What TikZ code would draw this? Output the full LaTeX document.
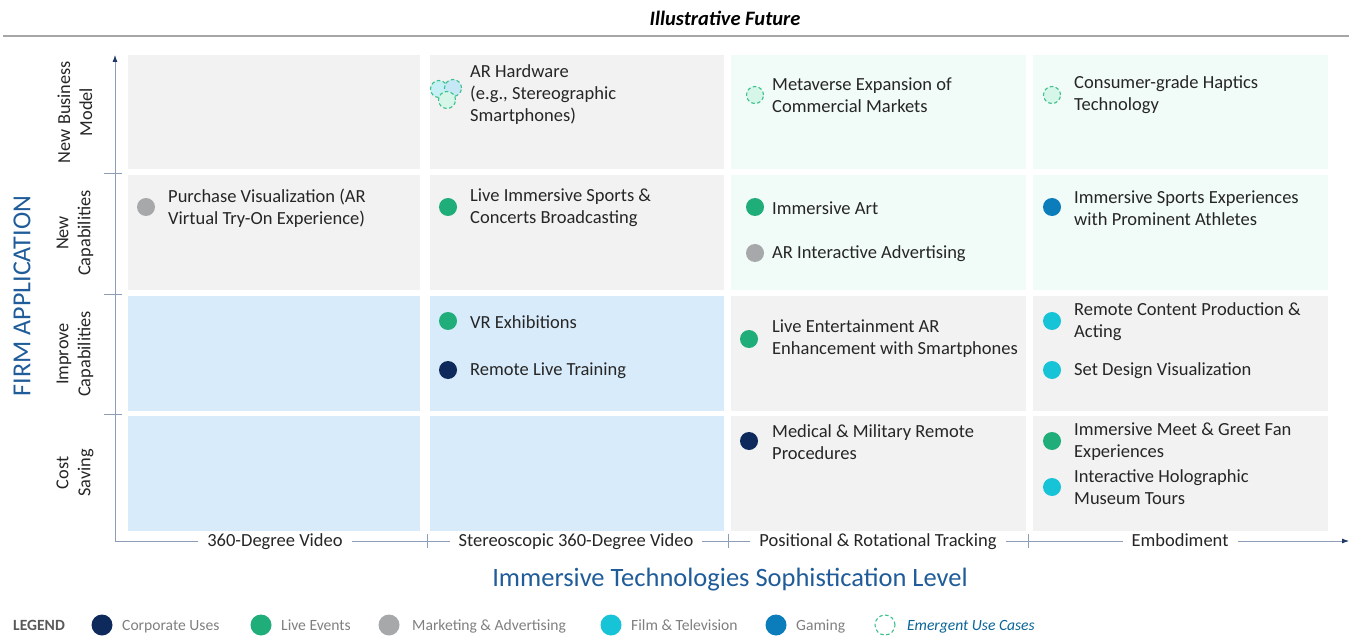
\documentclass[tikz,border=0pt]{standalone}
\usepackage{fontspec}
\setmainfont{Carlito}
\usetikzlibrary{arrows.meta}

\definecolor{txt}{HTML}{262626}
\definecolor{axisblue}{HTML}{1F5C99}
\definecolor{axisline}{HTML}{8C9DB5}
\definecolor{tipnavy}{HTML}{1F3864}
\definecolor{cellgray}{HTML}{F2F2F2}
\definecolor{cellblue}{HTML}{D8EBFA}
\definecolor{cellmint}{HTML}{F1FBF8}
\definecolor{corp}{HTML}{0E2A5C}
\definecolor{live}{HTML}{1FAD7A}
\definecolor{mkt}{HTML}{A6A8AA}
\definecolor{film}{HTML}{17C4D7}
\definecolor{gaming}{HTML}{0B7DBB}
\definecolor{emline}{HTML}{3CC08C}
\definecolor{emfill}{HTML}{D5F6E9}
\definecolor{legtxt}{HTML}{7F7F7F}

\tikzset{
  celltext/.style={anchor=west, align=left, inner sep=0pt, text=txt,
    font=\fontsize{18.5}{22}\selectfont},
  dot/.style={circle, minimum size=18pt, inner sep=0pt},
  emdot/.style={circle, minimum size=17pt, inner sep=0pt, draw=emline,
    dashed, dash pattern=on 3.5pt off 2.5pt, line width=1.1pt, fill=emfill},
  rowlabel/.style={rotate=90, align=center, text=txt, inner sep=0pt,
    font=\fontsize{18.3}{22}\selectfont},
  collabel/.style={fill=white, text=txt, inner xsep=9pt, inner ysep=2pt,
    text height=13pt, text depth=4pt,
    font=\fontsize{18.5}{22}\selectfont},
  axisarrow/.style={draw=axisline, line width=0.8pt,
    -{Latex[length=7pt,width=5pt,fill=tipnavy,color=tipnavy]}},
  tick/.style={draw=axisline, line width=0.8pt},
  legdot/.style={circle, minimum size=21pt, inner sep=0pt},
  legtext/.style={anchor=base west, text=legtxt, inner sep=0pt,
    font=\fontsize{15.6}{18}\selectfont}
}

\begin{document}
\begin{tikzpicture}[x=1pt,y=-1pt]
\useasboundingbox (0,0) rectangle (1359,636);

% heading and rule
\node[font=\fontsize{20.5}{24}\selectfont\bfseries\itshape, text=black] (title) at (725,18) {Illustrative Future};
\draw[draw=black!35, line width=1.2pt] (3,36) -- (1349,36);

% grid cells: columns = technology level, rows = firm application
\fill[cellgray] (128,55) rectangle (420,169);
\fill[cellgray] (430,55) rectangle (724,169);
\fill[cellmint] (731,55) rectangle (1026,169);
\fill[cellmint] (1033,55) rectangle (1328,169);

\fill[cellgray] (128,175) rectangle (420,290);
\fill[cellgray] (430,175) rectangle (724,290);
\fill[cellmint] (731,175) rectangle (1026,290);
\fill[cellmint] (1033,175) rectangle (1328,290);

\fill[cellblue] (128,296) rectangle (420,411);
\fill[cellblue] (430,296) rectangle (724,411);
\fill[cellgray] (731,296) rectangle (1026,411);
\fill[cellgray] (1033,296) rectangle (1328,411);

\fill[cellblue] (128,416) rectangle (420,531);
\fill[cellblue] (430,416) rectangle (724,531);
\fill[cellgray] (731,416) rectangle (1026,531);
\fill[cellgray] (1033,416) rectangle (1328,531);

% axes
\coordinate (origin) at (115,541);
\coordinate (ytop) at (115,55);
\coordinate (xend) at (1349,541);
\draw[axisarrow] (origin) -- (ytop);
\draw[axisarrow] (origin) -- (xend);
\draw[tick] (104,173) -- (122,173);
\draw[tick] (104,294) -- (122,294);
\draw[tick] (104,414) -- (122,414);
\draw[tick] (427,534) -- (427,548);
\draw[tick] (728,534) -- (728,548);
\draw[tick] (1028,534) -- (1028,548);

% column labels
\node[collabel] (c1) at (275,542) {360-Degree Video};
\node[collabel] (c2) at (576,542) {Stereoscopic 360-Degree Video};
\node[collabel] (c3) at (878,542) {Positional \& Rotational Tracking};
\node[collabel] (c4) at (1180,542) {Embodiment};

% row labels
\node[rowlabel] (r1) at (75,112) {New Business\\Model};
\node[rowlabel] (r2) at (75,233) {New\\Capabilities};
\node[rowlabel] (r3) at (75,354) {Improve\\Capabilities};
\node[rowlabel] (r4) at (75,473) {Cost\\Saving};

% axis titles
\node[rotate=90, text=axisblue, font=\fontsize{26}{30}\selectfont] (ytitle) at (22,296) {FIRM APPLICATION};
\node[text=axisblue, font=\fontsize{26.5}{30}\selectfont] (xtitle) at (730,580) {Immersive Technologies Sophistication Level};

% column 1
\node[dot, fill=mkt] (d11) at (146,207) {};
\node[celltext] (t11) at (168,208) {Purchase Visualization (AR\\Virtual Try-On Experience)};

% column 2
\node[emdot, fill=film!25] (h1) at (439,89) {};
\node[emdot, fill=cellblue!90!film] (h2) at (453,88) {};
\node[emdot] (h3) at (447,100) {};
\node[celltext] (t21) at (470,95) {AR Hardware\\(e.g., Stereographic\\Smartphones)};

\node[dot, fill=live] (d22) at (448,207) {};
\node[celltext] (t22) at (470,208) {Live Immersive Sports \&\\Concerts Broadcasting};

\node[dot, fill=live] (d23a) at (448,321) {};
\node[celltext] (t23a) at (470,322) {VR Exhibitions};
\node[dot, fill=corp] (d23b) at (448,370) {};
\node[celltext] (t23b) at (470,371) {Remote Live Training};

% column 3
\node[emdot] (d31) at (755,95) {};
\node[celltext] (t31) at (772,95) {Metaverse Expansion of\\Commercial Markets};

\node[dot, fill=live] (d32a) at (755,207) {};
\node[celltext] (t32a) at (772,208) {Immersive Art};
\node[dot, fill=mkt] (d32b) at (755,253) {};
\node[celltext] (t32b) at (772,254) {AR Interactive Advertising};

\node[dot, fill=live] (d33) at (749,339) {};
\node[celltext] (t33) at (772,339) {Live Entertainment AR\\Enhancement with Smartphones};

\node[dot, fill=corp] (d34) at (749,441) {};
\node[celltext] (t34) at (772,442) {Medical \& Military Remote\\Procedures};

% column 4
\node[emdot] (d41) at (1052,95) {};
\node[celltext] (t41) at (1074,95) {Consumer-grade Haptics\\Technology};

\node[dot, fill=gaming] (d42) at (1052,207) {};
\node[celltext] (t42) at (1074,208) {Immersive Sports Experiences\\with Prominent Athletes};

\node[dot, fill=film] (d43a) at (1052,321) {};
\node[celltext] (t43a) at (1074,322) {Remote Content Production \&\\Acting};
\node[dot, fill=film] (d43b) at (1052,370) {};
\node[celltext] (t43b) at (1074,371) {Set Design Visualization};

\node[dot, fill=live] (d44a) at (1052,441) {};
\node[celltext] (t44a) at (1074,442) {Immersive Meet \& Greet Fan\\Experiences};
\node[dot, fill=film] (d44b) at (1052,487) {};
\node[celltext] (t44b) at (1074,487) {Interactive Holographic\\Museum Tours};

% legend
\node[anchor=base west, inner sep=0pt, text=black!65, font=\fontsize{15.6}{18}\selectfont\bfseries] (leg) at (13,630.5) {LEGEND};
\node[legdot, fill=corp] (l1) at (102,625) {};
\node[legtext] (lt1) at (122,630.5) {Corporate Uses};
\node[legdot, fill=live] (l2) at (261,625) {};
\node[legtext] (lt2) at (281,630.5) {Live Events};
\node[legdot, fill=mkt] (l3) at (389,625) {};
\node[legtext] (lt3) at (412,630.5) {Marketing \& Advertising};
\node[legdot, fill=film] (l4) at (611,625) {};
\node[legtext] (lt4) at (631,630.5) {Film \& Television};
\node[legdot, fill=gaming] (l5) at (776,625) {};
\node[legtext] (lt5) at (796,630.5) {Gaming};
\node[emdot, minimum size=20pt, fill=none] (l6) at (885,625) {};
\node[legtext, text=gaming!80!black, font=\fontsize{15.6}{18}\selectfont\itshape] (lt6) at (907,630.5) {Emergent Use Cases};
\end{tikzpicture}
\end{document}
